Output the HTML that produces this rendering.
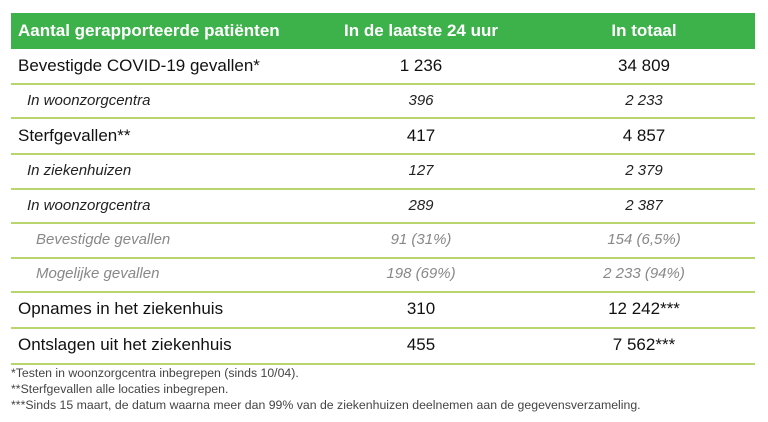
<!DOCTYPE html>
<html><head><style>
body{margin:0;width:768px;height:422px;background:#fff;font-family:"Liberation Sans",Arial,sans-serif;position:relative;overflow:hidden}
.hdr{position:absolute;left:11px;top:13px;width:744px;height:36px;background:#3db14a}
.t{position:absolute;white-space:nowrap}
.h{color:#fff;font-weight:bold;font-size:17px;top:21px}
.line{position:absolute;left:11px;width:744px;height:2px;background:#b9d66e}
.c2{left:321px;width:200px;text-align:center}
.c3{left:544px;width:200px;text-align:center}
.m{font-size:17px;color:#111}
.i{font-size:15px;font-style:italic;color:#222}
.g{font-size:15px;font-style:italic;color:#888}
.f{font-size:12.3px;color:#444;left:11px}
</style></head><body>
<div class="hdr"></div>
<div class="t h" style="left:18px">Aantal gerapporteerde patiënten</div>
<div class="t h c2">In de laatste 24 uur</div>
<div class="t h c3">In totaal</div>

<div class="t m" style="left:18px;top:56px">Bevestigde COVID-19 gevallen*</div>
<div class="t m c2" style="top:56px">1 236</div><div class="t m c3" style="top:56px">34 809</div>
<div class="line" style="top:83px"></div>
<div class="t i" style="left:27px;top:92px">In woonzorgcentra</div>
<div class="t i c2" style="top:92px">396</div><div class="t i c3" style="top:92px">2 233</div>
<div class="line" style="top:117px"></div>
<div class="t m" style="left:18px;top:126px">Sterfgevallen**</div>
<div class="t m c2" style="top:126px">417</div><div class="t m c3" style="top:126px">4 857</div>
<div class="line" style="top:153px"></div>
<div class="t i" style="left:27px;top:162px">In ziekenhuizen</div>
<div class="t i c2" style="top:162px">127</div><div class="t i c3" style="top:162px">2 379</div>
<div class="line" style="top:188px"></div>
<div class="t i" style="left:27px;top:197px">In woonzorgcentra</div>
<div class="t i c2" style="top:197px">289</div><div class="t i c3" style="top:197px">2 387</div>
<div class="line" style="top:222px"></div>
<div class="t g" style="left:36px;top:231px">Bevestigde gevallen</div>
<div class="t g c2" style="top:231px">91 (31%)</div><div class="t g c3" style="top:231px">154 (6,5%)</div>
<div class="line" style="top:257px"></div>
<div class="t g" style="left:36px;top:265px">Mogelijke gevallen</div>
<div class="t g c2" style="top:265px">198 (69%)</div><div class="t g c3" style="top:265px">2 233 (94%)</div>
<div class="line" style="top:291px"></div>
<div class="t m" style="left:18px;top:299px">Opnames in het ziekenhuis</div>
<div class="t m c2" style="top:299px">310</div><div class="t m c3" style="top:299px">12 242***</div>
<div class="line" style="top:327px"></div>
<div class="t m" style="left:18px;top:335px">Ontslagen uit het ziekenhuis</div>
<div class="t m c2" style="top:335px">455</div><div class="t m c3" style="top:335px">7 562***</div>
<div class="line" style="top:363px"></div>
<div class="t f" style="top:366px">*Testen in woonzorgcentra inbegrepen (sinds 10/04).</div>
<div class="t f" style="top:382px">**Sterfgevallen alle locaties inbegrepen.</div>
<div class="t f" style="top:398px">***Sinds 15 maart, de datum waarna meer dan 99% van de ziekenhuizen deelnemen aan de gegevensverzameling.</div>
</body></html>
